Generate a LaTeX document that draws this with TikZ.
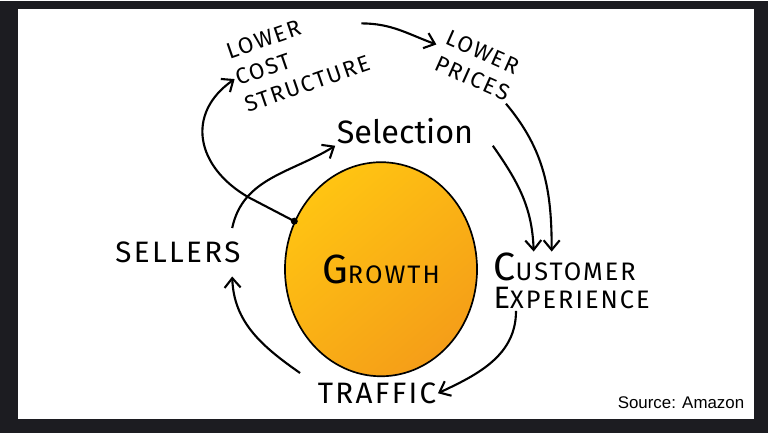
\documentclass[tikz,border=0pt]{standalone}
\usepackage{fontspec}
\setmainfont{Fira Sans}
\newfontfamily\handfont[LetterSpace=8]{Fira Sans}
\newfontfamily\srcfont{Liberation Sans}
\usetikzlibrary{arrows.meta,shapes.geometric}

\definecolor{frame}{HTML}{1C1C21}
\definecolor{growthlight}{HTML}{FFC412}
\definecolor{growthdark}{HTML}{F59E18}

\newcommand{\capletter}[2]{{\fontsize{#1}{#1}\selectfont #2}}

\tikzset{
  hand/.style={font=\handfont\fontsize{21}{24}\selectfont, inner sep=1pt},
  smallhand/.style={font=\handfont\fontsize{16}{20}\selectfont, inner sep=1pt},
  flow/.style={line width=1.5pt, -{Straight Barb[length=2.4mm,width=4mm]}},
}

\begin{document}
\begin{tikzpicture}[x=0.025cm,y=0.025cm]
    % card
    \fill[frame] (0,0) rectangle (768,432);
    \fill[white] (18,14) rectangle (754,424);

    % the ball
    \node[ellipse, draw, line width=1.2pt, shade, top color=growthlight, bottom color=growthdark,
          shading angle=40, minimum width=4.8cm, minimum height=5.35cm,
          font=\handfont\fontsize{18}{20}\selectfont] (growth) at (381,164) {\capletter{29}{G}ROWTH};

    \node[font=\fontsize{23}{26}\selectfont, inner sep=1pt] (selection) at (405,302) {Selection};
    \node[hand] (sellers) at (178,181) {SELLERS};
    \node[hand, align=left, anchor=west, font=\handfont\fontsize{18}{20}\selectfont] (experience) at (492,152)
        {\capletter{28}{C}USTOMER\\\capletter{22}{E}XPERIENCE};
    \node[hand] (traffic) at (377,40) {TRAFFIC};
    \node[smallhand, rotate=19, align=left] (cost) at (298,376) {LOWER\\COST\\STRUCTURE};
    \node[smallhand, rotate=-24, align=left] (prices) at (478,368) {LOWER\\PRICES};
    \node[font=\srcfont\fontsize{12}{14}\selectfont] (source) at (681,31) {Source: Amazon};

    % the wheel
    \draw[flow] ([xshift=-0.25cm,yshift=0.3cm]sellers.north east) to[out=78,in=212] (selection.south west);
    \draw[flow] ([xshift=0.45cm]selection.south east) to[out=-55,in=92] ([xshift=-0.95cm]experience.north);
    \draw[flow] ([xshift=0.6cm]experience.south west) to[out=-90,in=25] (traffic.east);
    \draw[flow] ([xshift=-0.4cm,yshift=0.2cm]traffic.north west) to[out=145,in=-88] ([xshift=-0.25cm,yshift=-0.3cm]sellers.south east);

    % the outer loop
    \fill (growth.151) circle (2.5pt);
    \draw[flow] (growth.151) -- ++(-46,24) to[out=150,in=215,looseness=1.3] (cost.west);
    \draw[flow] ([yshift=0.3cm]cost.east) to[out=0,in=160] ([xshift=-0.1cm,yshift=0.1cm]prices.west);
    \draw[flow] (prices.south east) to[out=-50,in=90] ([xshift=-0.5cm]experience.north);
\end{tikzpicture}
\end{document}
